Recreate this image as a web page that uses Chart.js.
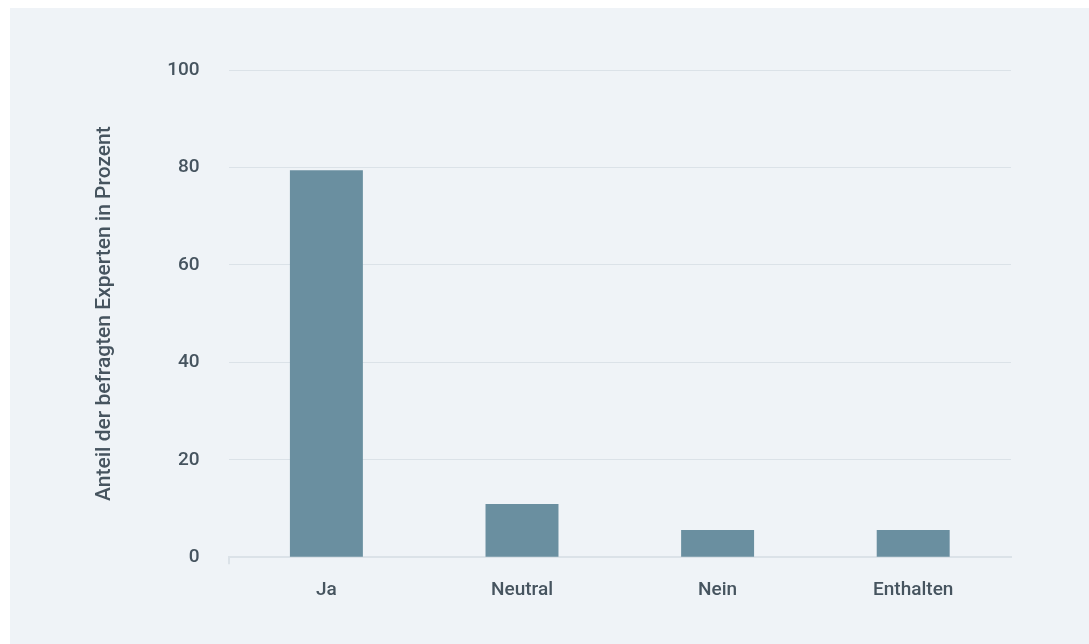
<!DOCTYPE html>
<html>
<head>
<meta charset="utf-8">
<script src="https://cdn.jsdelivr.net/npm/chart.js@4"></script>
<style>
  html, body { margin: 0; padding: 0; background: #ffffff; }
  #panel {
    position: absolute; left: 10px; top: 8px;
    width: 1079px; height: 636px;
    background: #eff3f7;
  }
</style>
</head>
<body>
<div id="panel"><canvas id="chart" width="1079" height="636"></canvas></div>
<script>
// Data
const categories = ['Ja', 'Neutral', 'Nein', 'Enthalten'];
const shares = [79.4, 10.9, 5.6, 5.6];
const yTicks = [0, 20, 40, 60, 80, 100];
const yTitle = 'Anteil der befragten Experten in Prozent';

const textColor = '#46545f';
const gridColor = '#dbe2e8';
const fontFamily = 'Roboto, "Open Sans", sans-serif';

const ctx = document.getElementById('chart').getContext('2d');
new Chart(ctx, {
  type: 'bar',
  data: {
    labels: categories,
    datasets: [{
      data: shares,
      backgroundColor: '#6a8fa0',
      borderWidth: 0,
      barPercentage: 0.373,
      categoryPercentage: 1
    }]
  },
  options: {
    responsive: false,
    animation: false,
    layout: { padding: { left: 82, right: 78, top: 62, bottom: 27 } },
    plugins: { legend: { display: false }, tooltip: { enabled: false } },
    scales: {
      y: {
        min: 0,
        max: 100,
        afterBuildTicks: axis => { axis.ticks = yTicks.map(v => ({ value: v })); },
        border: { display: false },
        grid: { color: gridColor, lineWidth: 1, drawTicks: false },
        ticks: { color: textColor, font: { family: fontFamily, size: 19, weight: 500 }, padding: 29 },
        title: {
          display: true,
          text: yTitle,
          color: textColor,
          font: { family: fontFamily, size: 21, weight: 500 },
          padding: { top: 0, bottom: 21 }
        }
      },
      x: {
        border: { display: true, color: gridColor, width: 2 },
        grid: {
          offset: true,
          drawOnChartArea: false,
          tickLength: 7,
          color: c => (c.index === 0 || c.index === categories.length) ? gridColor : 'rgba(0,0,0,0)',
          lineWidth: 2
        },
        ticks: { color: textColor, font: { family: fontFamily, size: 19, weight: 500 }, padding: 15 }
      }
    }
  }
});
</script>
</body>
</html>
